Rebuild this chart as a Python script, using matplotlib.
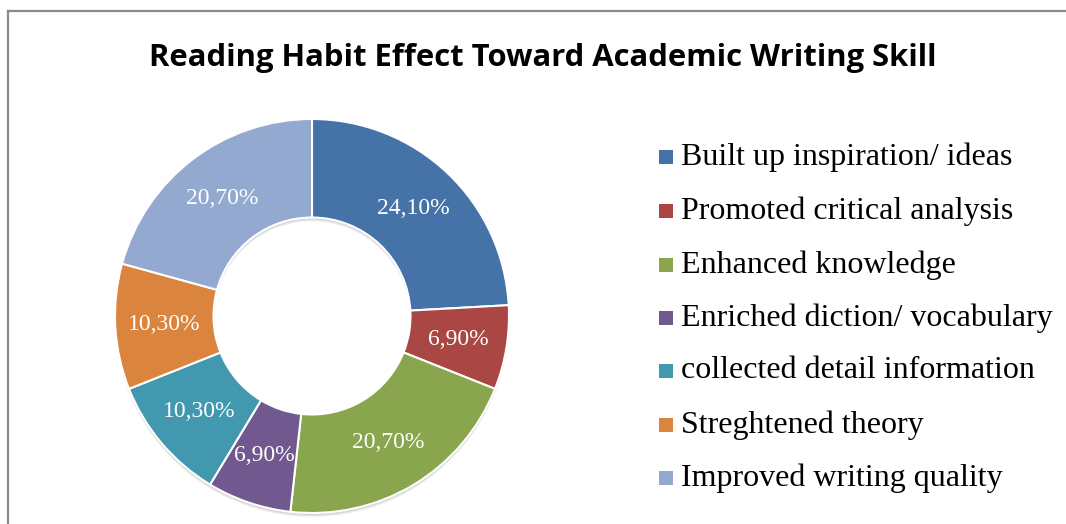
import matplotlib
matplotlib.use("Agg")
import matplotlib.pyplot as plt
import numpy as np
from matplotlib.lines import Line2D
from matplotlib.patches import Rectangle

# Data
categories = [
    "Built up inspiration/ ideas",
    "Promoted critical analysis",
    "Enhanced knowledge",
    "Enriched diction/ vocabulary",
    "collected detail information",
    "Streghtened theory",
    "Improved writing quality",
]
shares = [24.1, 6.9, 20.7, 6.9, 10.3, 10.3, 20.7]
colors = ["#4572A7", "#AA4643", "#89A54E", "#71588F", "#4198AF", "#DB843D", "#93A9CF"]
title = "Reading Habit Effect Toward Academic Writing Skill"

W, H = 1066, 524
fig = plt.figure(figsize=(W / 100, H / 100), dpi=100)
fig.patch.set_facecolor("white")

# gray chart border (only top and left visible in the crop)
fig.add_artist(Line2D([8 / W, 1.0], [1 - 11 / H, 1 - 11 / H], color="#8a8a8a", lw=1.6))
fig.add_artist(Line2D([8 / W, 8 / W], [0.0, 1 - 11 / H], color="#8a8a8a", lw=1.6))

fig.text(543 / W, 1 - 58 / H, title, ha="center", va="center",
         fontsize=22.3, fontweight="bold", family="Open Sans")

# donut: centre (312, 316) px, outer radius 197 px
cx, cy, r = 312, 316, 197
ax = fig.add_axes([(cx - r) / W, (H - cy - r) / H, 2 * r / W, 2 * r / H])

# soft shadow under the ring
for k, a in [(4, 0.05), (3, 0.06), (2, 0.07)]:
    ax.pie([1], radius=1.0, center=(0.0, -k / r), colors=["#000000"],
           wedgeprops=dict(width=0.5, linewidth=0, alpha=a))

wedges, _ = ax.pie(shares, colors=colors, startangle=90, counterclock=False,
                   wedgeprops=dict(width=0.5, edgecolor="white", linewidth=1.5))

for w, v in zip(wedges, shares):
    ang = np.deg2rad((w.theta1 + w.theta2) / 2)
    txt = f"{v:.2f}".replace(".", ",") + "%"
    ax.text(0.75 * np.cos(ang), 0.75 * np.sin(ang), txt, ha="center", va="center",
            color="white", fontsize=17, family="Liberation Serif")

ax.set_xlim(-1.0, 1.0)
ax.set_ylim(-1.0, 1.0)
ax.set_aspect("equal")
ax.axis("off")

# legend drawn by hand to match spacing
row_y = [157, 211, 265, 318, 371, 425, 478]
for name, col, y in zip(categories, colors, row_y):
    fig.add_artist(Rectangle((659 / W, 1 - (y + 7) / H), 14 / W, 14 / H,
                             facecolor=col, edgecolor="none"))
    fig.text(681 / W, 1 - y / H, name, ha="left", va="center",
             fontsize=23, family="Liberation Serif")

fig.savefig("out.png", dpi=100)
